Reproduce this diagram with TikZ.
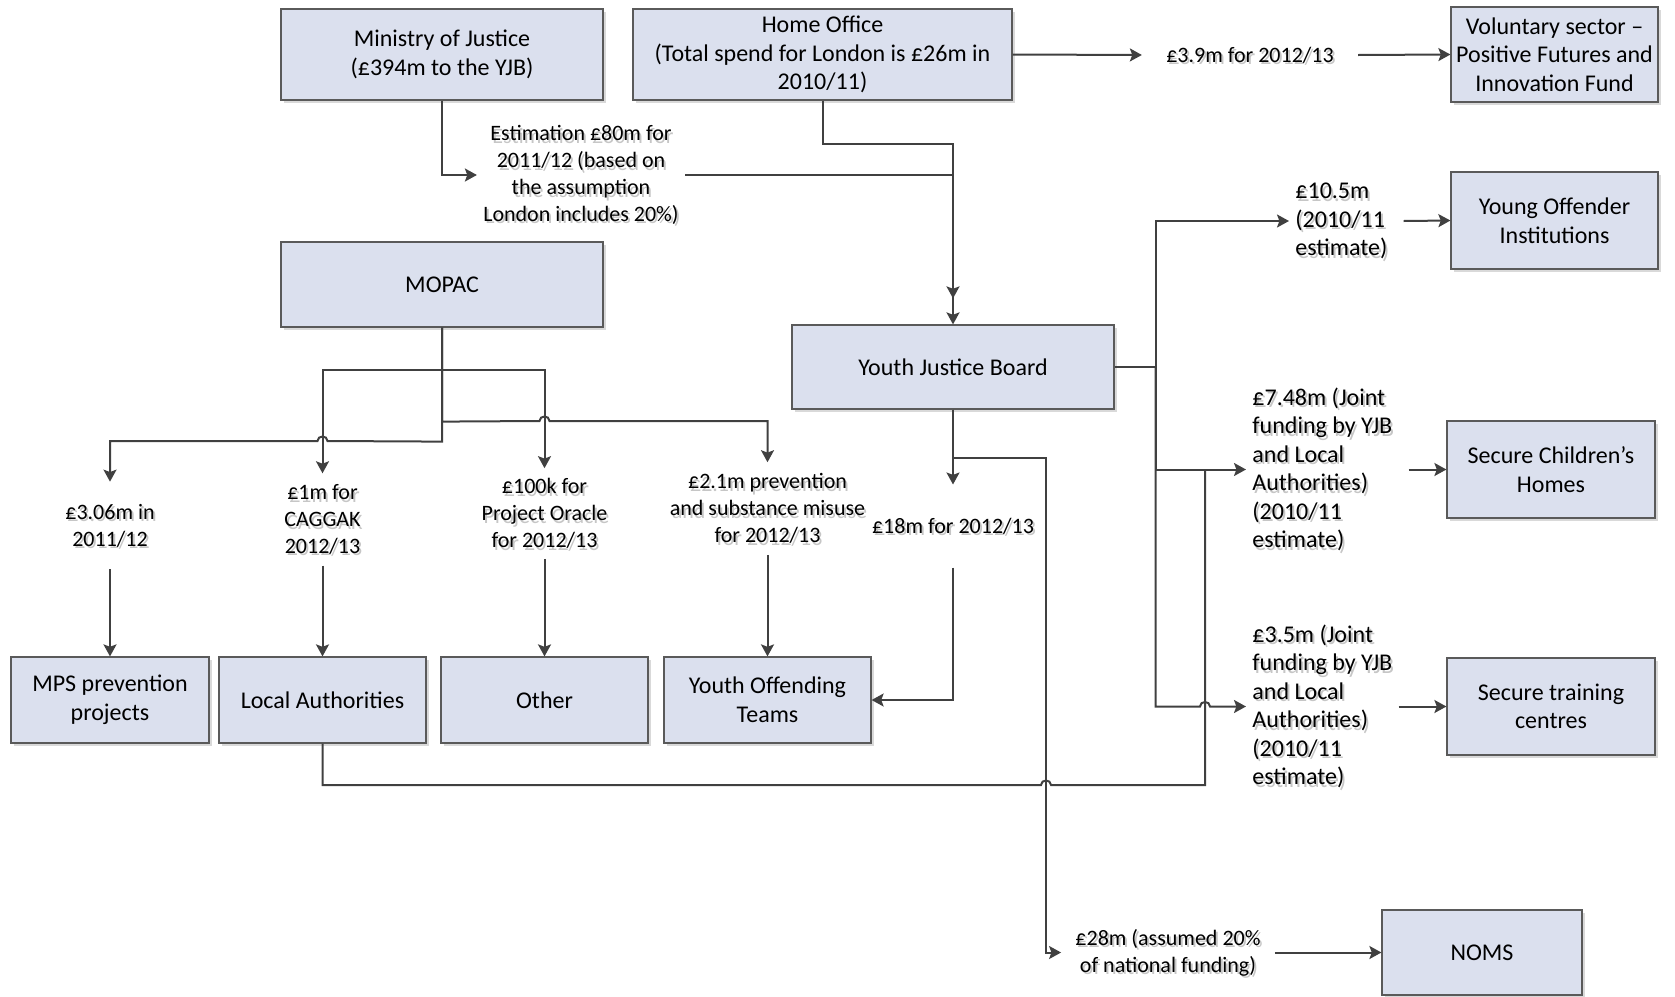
\documentclass[tikz,border=0pt]{standalone}
\usepackage{fontspec}
\setmainfont{Carlito}
\usetikzlibrary{arrows.meta,shadows,calc}
\definecolor{linec}{HTML}{404040}
\definecolor{boxline}{HTML}{5A5A5A}
\definecolor{boxfill}{HTML}{DBE0EE}
\definecolor{tshadow}{HTML}{C6C6C6}
\definecolor{bshadow}{HTML}{D9D9D9}
\tikzset{
  box/.style={draw=boxline, line width=0.6pt, fill=boxfill, align=center, inner sep=0pt,
    font=\fontsize{12}{14.3}\selectfont,
    drop shadow={shadow xshift=1.5pt, shadow yshift=-1.5pt, fill=bshadow, opacity=1}},
  lbls/.style={font=\fontsize{11}{13.4}\selectfont, align=center, inner sep=3pt},
  lbll/.style={font=\fontsize{12}{14.25}\selectfont, align=left, inner sep=3pt, anchor=west},
  conn/.style={draw=linec, line width=1pt},
  arr/.style={conn, -{Stealth[length=6pt,width=6.5pt,inset=1.2pt]}},
}
\newcommand\shlbl[4]{%
  \node[#1, text=tshadow, xshift=1pt, yshift=-1.3pt] (#2s) at (#3) {#4};
  \node[#1] (#2) at (#3) {#4};}
\begin{document}
\begin{tikzpicture}[x=0.5pt,y=-0.5pt]
\useasboundingbox (0,0) rectangle (1675,996);
% boxes
\node[box, minimum width=161pt, minimum height=45.5pt] (moj) at (442,54.5) {Ministry of Justice\\(£394m to the YJB)};
\node[box, minimum width=189.5pt, minimum height=45.5pt] (ho) at (822.5,54.5) {Home Office\\(Total spend for London is £26m in\\2010/11)};
\node[box, minimum width=103.5pt, minimum height=47.5pt] (vol) at (1554.5,54.5) {Voluntary sector –\\Positive Futures and\\Innovation Fund};
\node[box, minimum width=161pt, minimum height=42.5pt] (mopac) at (442,284.5) {MOPAC};
\node[box, minimum width=161pt, minimum height=42pt] (yjb) at (953,367) {Youth Justice Board};
\node[box, minimum width=103.5pt, minimum height=48.5pt] (yoi) at (1554.5,220.5) {Young Offender\\Institutions};
\node[box, minimum width=104pt, minimum height=48.5pt] (sch) at (1551,469.5) {Secure Children’s\\Homes};
\node[box, minimum width=104pt, minimum height=48.5pt] (stc) at (1551,706.5) {Secure training\\centres};
\node[box, minimum width=100pt, minimum height=42.5pt] (noms) at (1482,952.5) {NOMS};
\node[box, minimum width=99pt, minimum height=43pt] (mps) at (110,700) {MPS prevention\\projects};
\node[box, minimum width=103.5pt, minimum height=43pt] (la) at (322.5,700) {Local Authorities};
\node[box, minimum width=103.5pt, minimum height=43pt] (other) at (544.5,700) {Other};
\node[box, minimum width=103.5pt, minimum height=43pt] (yot) at (767.5,700) {Youth Offending\\Teams};
% labels
\shlbl{lbls}{est}{581,175}{Estimation £80m for\\2011/12 (based on\\the assumption\\London includes 20\%)}
\shlbl{lbls, inner xsep=12pt}{l39}{1250,55}{£3.9m for 2012/13}
\shlbl{lbll}{l105}{1289,221}{£10.5m\\(2010/11\\estimate)}
\shlbl{lbll}{l748}{1246,469.5}{£7.48m (Joint\\funding by YJB\\and Local\\Authorities)\\(2010/11\\estimate)}
\shlbl{lbll}{l35}{1246,706.5}{£3.5m (Joint\\funding by YJB\\and Local\\Authorities)\\(2010/11\\estimate)}
\shlbl{lbls, inner ysep=16.5pt}{l18}{953,526}{£18m for 2012/13}
\shlbl{lbls, inner xsep=7pt}{l28}{1168,952.5}{£28m (assumed 20\%\\of national funding)}
\shlbl{lbls, inner ysep=11pt}{l306}{110,525.5}{£3.06m in\\2011/12}
\shlbl{lbls, inner ysep=5.5pt}{l1m}{322.5,519.5}{£1m for\\CAGGAK\\2012/13}
\shlbl{lbls, inner ysep=5pt}{l100k}{544.5,513.5}{£100k for\\Project Oracle\\for 2012/13}
\shlbl{lbls, inner ysep=5.5pt}{l21}{767.5,508.5}{£2.1m prevention\\and substance misuse\\for 2012/13}
% top connectors
\draw[arr] (moj.south) |- (est.west);
\draw[arr] (est.east) -| (yjb.north);
\draw[arr] (ho.south) -- ++(0,43) -| ([yshift=13pt]yjb.north);
\draw[arr] (ho.east) -- (l39.west);
\draw[arr] (l39.east) -- (vol.west);
% YJB right branches
\draw[conn] (yjb.east) -- ++(41,0) coordinate (jr);
\draw[arr] (jr) |- (l105.west);
\draw[arr] (jr) |- (l748.west);
\draw[arr] (jr) |- (1200,706.5) .. controls (1200,700.5) and (1210,700.5) .. (1210,706.5) -- (l35.west);
\draw[arr] ([xshift=5pt]l105.east) -- (yoi.west);
\draw[arr] ([xshift=5pt]l748.east) -- (sch.west);
\draw[arr] (l35.east) -- (stc.west);
% YJB down
\draw[arr] (yjb.south) -- (l18.north);
\draw[arr] (l18.south) |- (yot.east);
\draw[arr] (yjb.south) -- ++(0,48) -- ++(93,0) |- (l28.west);
\draw[arr] (l28.east) -- (noms.west);
% Local Authorities to joint funding
\draw[conn] (la.south) |- (1041,785) .. controls (1041,779) and (1051,779) .. (1051,785) -- (1205,785) -- (1205,469.5);
% MOPAC
\draw[arr] (mopac.south) -- ++(0,42) -| (l1m.north);
\draw[arr] (mopac.south) -- ++(0,42) -| (l100k.north);
\draw[arr] (mopac.south) -- ++(0,94) -- (539.5,421) .. controls (539.5,415) and (549.5,415) .. (549.5,421) -| (l21.north);
\draw[arr] (mopac.south) -- ++(0,114) -- (327.5,441) .. controls (327.5,435) and (317.5,435) .. (317.5,441) -| (l306.north);
\draw[arr] (l306.south) -- (mps.north);
\draw[arr] (l1m.south) -- (la.north);
\draw[arr] (l100k.south) -- (other.north);
\draw[arr] (l21.south) -- (yot.north);
\end{tikzpicture}
\end{document}
